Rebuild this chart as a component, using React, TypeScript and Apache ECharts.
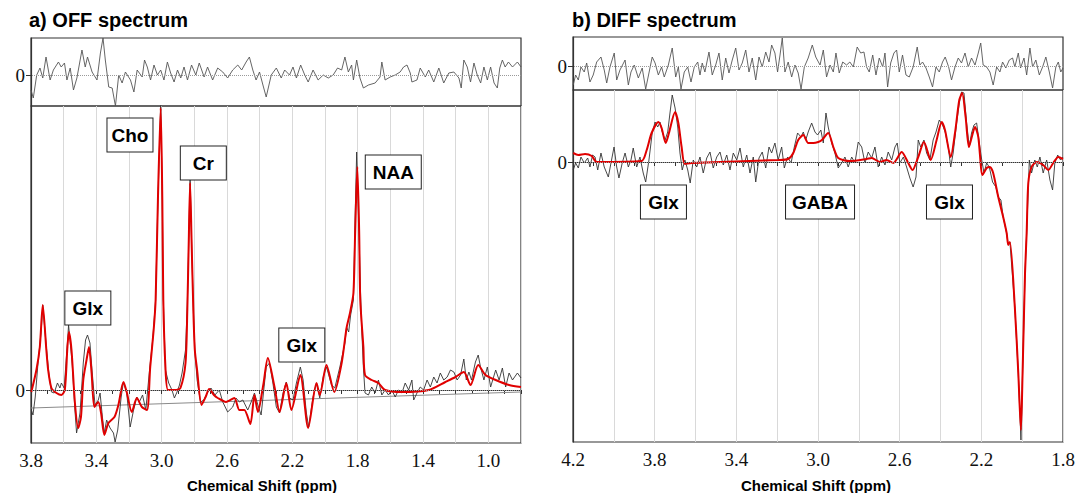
import React, { useEffect, useRef } from "react";
import * as echarts from "echarts";

// ---------- DATA (ppm, amplitude in arbitrary units) ----------
// a) OFF spectrum – residual (data minus fit)
const offResidual: number[][] = [[3.800,-15],[3.786,-23],[3.765,0],[3.745,7],[3.728,-3],[3.708,18],[3.683,-5],[3.663,5],[3.632,13],[3.615,8],[3.595,12],[3.580,-5],[3.560,7],[3.540,-15],[3.519,-3],[3.488,25],[3.468,8],[3.454,18],[3.426,3],[3.396,-5],[3.375,22],[3.359,37],[3.345,15],[3.324,-12],[3.303,-13],[3.283,-31],[3.263,0],[3.242,-8],[3.222,3],[3.191,-5],[3.170,-17],[3.150,5],[3.119,-2],[3.105,15],[3.088,8],[3.068,-5],[3.047,10],[3.026,0],[3.006,5],[2.986,-5],[2.965,13],[2.945,2],[2.924,-7],[2.903,5],[2.883,-3],[2.863,8],[2.842,-5],[2.817,10],[2.791,0],[2.770,12],[2.740,-2],[2.719,8],[2.688,-5],[2.657,7],[2.626,3],[2.596,-3],[2.565,5],[2.534,10],[2.510,5],[2.483,13],[2.463,18],[2.442,5],[2.422,-5],[2.401,3],[2.380,-10],[2.360,-22],[2.329,0],[2.298,7],[2.268,-3],[2.247,5],[2.217,0],[2.196,8],[2.175,-3],[2.149,10],[2.124,0],[2.103,-7],[2.073,5],[2.042,-5],[2.011,0],[1.980,-3],[1.950,0],[1.923,7],[1.898,5],[1.878,18],[1.857,3],[1.837,10],[1.826,-5],[1.806,15],[1.786,-3],[1.765,-13],[1.734,-10],[1.693,-8],[1.663,-2],[1.652,13],[1.632,-5],[1.601,-2],[1.570,0],[1.540,3],[1.519,8],[1.498,10],[1.478,2],[1.468,-7],[1.437,-5],[1.417,7],[1.386,-2],[1.365,5],[1.334,-7],[1.303,7],[1.273,-8],[1.242,2],[1.211,3],[1.180,-3],[1.166,-13],[1.150,15],[1.129,8],[1.109,-7],[1.088,12],[1.068,0],[1.047,-8],[1.027,8],[1.006,-5],[0.986,8],[0.965,-8],[0.945,-13],[0.930,7],[0.914,15],[0.897,8],[0.877,13],[0.852,8],[0.822,13],[0.800,8]];

// a) OFF spectrum – measured data
const offData: number[][] = [[3.798,-20],[3.788,-25],[3.774,-7],[3.757,27],[3.737,60],[3.728,85],[3.706,43],[3.691,17],[3.675,-2],[3.658,-3],[3.638,7],[3.623,2],[3.614,7],[3.597,2],[3.577,47],[3.570,65],[3.548,27],[3.531,-20],[3.521,-43],[3.500,-23],[3.480,27],[3.466,50],[3.454,55],[3.439,47],[3.425,17],[3.408,-15],[3.388,-10],[3.377,-3],[3.363,-27],[3.351,-43],[3.337,-30],[3.316,-38],[3.295,-43],[3.285,-52],[3.269,-40],[3.248,-7],[3.234,8],[3.214,-3],[3.193,-37],[3.172,-20],[3.152,-7],[3.137,-12],[3.117,-5],[3.097,-20],[3.076,17],[3.055,50],[3.037,90],[3.023,190],[3.006,285],[2.996,190],[2.990,90],[2.977,20],[2.957,7],[2.937,0],[2.922,-8],[2.906,-2],[2.891,5],[2.875,17],[2.854,40],[2.843,85],[2.834,150],[2.826,212],[2.817,150],[2.806,80],[2.797,40],[2.783,10],[2.762,-12],[2.742,-10],[2.721,-3],[2.698,2],[2.674,-5],[2.647,0],[2.626,-12],[2.596,-22],[2.565,-17],[2.545,-8],[2.524,-12],[2.503,-10],[2.473,-20],[2.452,-12],[2.432,-3],[2.411,-15],[2.391,-25],[2.360,23],[2.340,27],[2.319,7],[2.298,-17],[2.278,-23],[2.257,-3],[2.237,8],[2.217,-8],[2.196,-10],[2.175,7],[2.151,23],[2.134,10],[2.114,-23],[2.100,-37],[2.073,-7],[2.052,7],[2.032,-8],[2.011,13],[1.991,23],[1.960,5],[1.940,2],[1.909,23],[1.878,47],[1.868,63],[1.855,58],[1.843,75],[1.826,90],[1.816,170],[1.806,238],[1.794,170],[1.783,100],[1.775,60],[1.765,23],[1.755,-3],[1.734,-5],[1.714,3],[1.693,-3],[1.673,10],[1.652,-5],[1.632,0],[1.611,-5],[1.591,0],[1.570,-7],[1.550,0],[1.529,-3],[1.509,7],[1.488,0],[1.468,10],[1.457,-10],[1.437,-3],[1.417,3],[1.396,0],[1.375,10],[1.355,3],[1.334,13],[1.314,7],[1.294,17],[1.273,10],[1.252,13],[1.232,20],[1.211,18],[1.191,10],[1.170,15],[1.150,31],[1.135,10],[1.119,18],[1.103,10],[1.079,28],[1.062,35],[1.048,23],[1.027,10],[1.006,23],[0.986,3],[0.955,20],[0.934,10],[0.914,22],[0.894,3],[0.873,17],[0.852,10],[0.822,17],[0.800,12]];

// a) OFF spectrum – model fit
const offFit: number[][] = [[3.798,-2],[3.767,20],[3.746,43],[3.728,85],[3.706,40],[3.695,20],[3.675,2],[3.644,-3],[3.614,-5],[3.593,0],[3.577,43],[3.568,58],[3.552,40],[3.531,-13],[3.511,-38],[3.494,-27],[3.480,10],[3.460,30],[3.445,43],[3.429,17],[3.412,-17],[3.388,-12],[3.371,-23],[3.351,-45],[3.326,-33],[3.289,-27],[3.265,-15],[3.234,8],[3.214,-2],[3.183,-22],[3.152,-8],[3.121,-17],[3.090,-20],[3.070,23],[3.049,60],[3.037,90],[3.023,190],[3.006,282],[2.996,190],[2.990,90],[2.977,23],[2.961,0],[2.916,0],[2.885,2],[2.854,27],[2.843,80],[2.834,150],[2.826,207],[2.817,150],[2.806,80],[2.797,40],[2.783,20],[2.756,-15],[2.731,-7],[2.709,1],[2.680,-5],[2.657,-8],[2.606,-12],[2.555,-8],[2.524,-20],[2.494,-20],[2.457,-34],[2.432,-5],[2.411,-22],[2.378,5],[2.350,32],[2.309,3],[2.278,-22],[2.237,7],[2.206,-20],[2.151,15],[2.103,-38],[2.052,7],[2.032,-5],[1.991,25],[1.943,-2],[1.898,27],[1.868,62],[1.847,77],[1.826,97],[1.815,160],[1.802,223],[1.791,160],[1.784,90],[1.765,43],[1.755,15],[1.714,10],[1.673,7],[1.632,0],[1.529,-2],[1.365,0],[1.263,8],[1.201,13],[1.150,18],[1.109,5],[1.062,25],[1.017,15],[0.955,10],[0.873,5],[0.800,3]];

// a) OFF spectrum – fitted baseline
const offBaseline: number[][] = [[3.8,-18],[0.8,-2]];

// b) DIFF spectrum – residual
const diffResidual: number[][] = [[4.199,-19],[4.187,-9],[4.174,-14],[4.161,-1],[4.145,-6],[4.133,3],[4.117,-16],[4.101,-9],[4.084,4],[4.063,9],[4.047,-4],[4.035,-17],[4.019,-1],[3.998,13],[3.986,-14],[3.970,-4],[3.945,6],[3.929,-19],[3.916,-6],[3.900,1],[3.880,-12],[3.861,-2],[3.844,-23],[3.828,-7],[3.812,9],[3.798,3],[3.782,-9],[3.766,-1],[3.753,-11],[3.733,1],[3.714,18],[3.697,-11],[3.684,-1],[3.671,-23],[3.655,-6],[3.638,-1],[3.622,-16],[3.606,-1],[3.589,4],[3.578,-9],[3.567,3],[3.554,-6],[3.534,14],[3.518,-9],[3.501,1],[3.485,13],[3.469,-14],[3.452,8],[3.436,-7],[3.420,6],[3.403,18],[3.387,-4],[3.371,3],[3.354,16],[3.338,-6],[3.322,8],[3.305,-14],[3.289,9],[3.273,-1],[3.256,14],[3.240,4],[3.227,21],[3.211,13],[3.198,-6],[3.186,11],[3.175,28],[3.162,-6],[3.146,4],[3.129,-11],[3.113,1],[3.097,-7],[3.083,-23],[3.067,-1],[3.048,8],[3.028,21],[3.011,9],[2.990,1],[2.974,16],[2.958,-11],[2.941,1],[2.925,-6],[2.912,13],[2.896,-7],[2.879,4],[2.860,1],[2.844,4],[2.827,-1],[2.808,19],[2.791,13],[2.775,14],[2.762,-1],[2.749,-6],[2.732,11],[2.716,-9],[2.700,8],[2.683,-1],[2.672,13],[2.659,-21],[2.644,3],[2.628,13],[2.615,16],[2.602,-6],[2.586,11],[2.569,-9],[2.553,-11],[2.534,-1],[2.514,19],[2.501,1],[2.488,4],[2.471,-2],[2.455,-11],[2.439,-21],[2.422,-1],[2.406,-6],[2.390,4],[2.377,9],[2.360,-1],[2.346,-14],[2.329,-1],[2.313,8],[2.297,3],[2.280,13],[2.264,-1],[2.248,8],[2.231,1],[2.215,13],[2.203,23],[2.191,1],[2.174,-1],[2.158,-6],[2.142,-19],[2.125,-1],[2.109,-6],[2.096,4],[2.080,-2],[2.063,6],[2.047,8],[2.036,-1],[2.019,13],[2.008,-2],[1.991,8],[1.978,-9],[1.962,18],[1.949,-1],[1.933,6],[1.916,-9],[1.900,-1],[1.884,9],[1.867,-6],[1.851,-22],[1.835,-1],[1.823,4],[1.811,-6],[1.800,-2]];

// b) DIFF spectrum – measured data
const diffData: number[][] = [[4.199,-8],[4.187,-1],[4.174,-6],[4.161,5],[4.145,-1],[4.128,4],[4.117,-5],[4.104,7],[4.092,5],[4.079,-8],[4.063,9],[4.047,-5],[4.027,-15],[4.014,-1],[3.999,15],[3.986,-5],[3.975,-16],[3.959,-1],[3.945,9],[3.929,-5],[3.916,2],[3.905,14],[3.888,-5],[3.872,5],[3.856,-11],[3.844,-20],[3.828,2],[3.812,29],[3.798,40],[3.785,35],[3.774,40],[3.763,30],[3.749,22],[3.736,30],[3.725,49],[3.714,67],[3.700,54],[3.687,35],[3.676,9],[3.665,-8],[3.652,2],[3.638,-8],[3.626,-21],[3.611,2],[3.594,-5],[3.578,5],[3.562,-11],[3.545,4],[3.529,10],[3.513,-6],[3.496,5],[3.480,10],[3.464,-3],[3.447,7],[3.431,-8],[3.415,9],[3.398,2],[3.382,14],[3.366,-5],[3.349,7],[3.333,-11],[3.317,5],[3.305,-20],[3.289,4],[3.273,10],[3.256,-6],[3.240,15],[3.227,9],[3.211,19],[3.195,2],[3.178,15],[3.165,-6],[3.149,5],[3.132,-1],[3.116,15],[3.100,29],[3.083,25],[3.072,30],[3.060,22],[3.048,30],[3.031,39],[3.015,30],[3.002,27],[2.986,32],[2.974,19],[2.961,49],[2.950,35],[2.933,19],[2.917,9],[2.901,-6],[2.884,-1],[2.868,5],[2.852,-5],[2.835,5],[2.819,-1],[2.803,20],[2.786,15],[2.770,-1],[2.754,10],[2.737,4],[2.721,15],[2.705,-5],[2.688,5],[2.672,-3],[2.656,10],[2.639,2],[2.623,15],[2.612,19],[2.599,-1],[2.582,5],[2.566,-5],[2.550,-16],[2.534,-25],[2.520,-15],[2.509,22],[2.497,15],[2.481,22],[2.468,9],[2.452,2],[2.436,22],[2.422,30],[2.406,42],[2.390,37],[2.377,30],[2.362,15],[2.350,-5],[2.338,9],[2.321,39],[2.308,59],[2.297,70],[2.285,69],[2.272,39],[2.259,15],[2.248,29],[2.236,37],[2.223,39],[2.210,19],[2.198,2],[2.187,-11],[2.174,-1],[2.161,-5],[2.145,-20],[2.129,-25],[2.117,-35],[2.104,-38],[2.093,-55],[2.076,-71],[2.068,-83],[2.060,-80],[2.036,-145],[2.019,-211],[2.006,-278],[1.998,-211],[1.986,-111],[1.978,-71],[1.965,2],[1.954,-11],[1.938,2],[1.926,-5],[1.913,5],[1.897,-11],[1.880,2],[1.864,-18],[1.851,-28],[1.840,-1],[1.826,7],[1.812,2],[1.800,5]];

// b) DIFF spectrum – model fit
const diffFit: number[][] = [[4.199,9],[4.174,7],[4.141,8],[4.108,6],[4.084,0],[3.864,1],[3.839,12],[3.815,29],[3.782,40],[3.766,34],[3.746,19],[3.730,29],[3.700,50],[3.684,39],[3.668,15],[3.652,-2],[3.619,-1],[3.195,2],[3.146,3],[3.121,9],[3.097,22],[3.072,27],[3.048,19],[3.023,19],[2.999,20],[2.981,22],[2.950,29],[2.925,15],[2.901,4],[2.844,1],[2.762,3],[2.737,4],[2.697,0],[2.664,2],[2.631,-1],[2.590,10],[2.558,-1],[2.537,-8],[2.509,5],[2.481,20],[2.448,2],[2.419,22],[2.394,40],[2.378,32],[2.350,5],[2.329,29],[2.308,62],[2.294,69],[2.277,45],[2.261,15],[2.248,24],[2.231,35],[2.215,25],[2.194,-13],[2.174,-6],[2.158,-5],[2.142,-11],[2.117,-35],[2.093,-55],[2.076,-71],[2.068,-83],[2.060,-80],[2.036,-145],[2.019,-211],[2.006,-268],[1.998,-211],[1.986,-111],[1.978,-71],[1.970,-21],[1.954,-5],[1.929,0],[1.897,-3],[1.872,-8],[1.848,-1],[1.823,5],[1.800,3]];

// Annotations: [label, ppm, amplitude]
const offLabels: [string, number, number][] = [["Glx",3.452,82],["Cho",3.194,255],["Cr",2.745,227],["Glx",2.142,45],["NAA",1.582,218]];
const diffLabels: [string, number, number][] = [["Glx",3.757,-40],["GABA",2.99,-40],["Glx",2.356,-40]];

// Axis ranges and tick labels
const offRange = [0.8, 3.8];
const diffRange = [1.8, 4.2];
const offTickLabels = ["3.8","3.4","3.0","2.6","2.2","1.8","1.4","1.0"];
const diffTickLabels = ["4.2","3.8","3.4","3.0","2.6","2.2","1.8"];
const titles = ["a) OFF spectrum", "b) DIFF spectrum"];
const axisName = "Chemical Shift (ppm)";

// ---------- STYLE ----------
const SERIF = '"Liberation Serif", "Times New Roman", serif';
const SANS = '"Liberation Sans", Arial, sans-serif';
const FRAME = "#333";

function xAxisDef(gridIndex: number, range: number[], labels: string[] | null) {
  return {
    type: "value",
    gridIndex,
    min: range[0],
    max: range[1],
    inverse: true,
    interval: 0.2,
    axisLine: { show: labels !== null, lineStyle: { color: FRAME, width: 1.2 } },
    axisTick: { show: labels !== null, length: 4, inside: false, lineStyle: { color: FRAME } },
    minorTick: { show: labels !== null, splitNumber: 2, length: 4, lineStyle: { color: FRAME } },
    splitLine: { show: labels !== null, lineStyle: { color: "#d9d9d9", width: 1 } },
    axisLabel: {
      show: labels !== null,
      margin: 8,
      color: "#111",
      fontFamily: SERIF,
      fontSize: 19,
      formatter: (v: number) => {
        const s = v.toFixed(1);
        return labels && labels.indexOf(s) >= 0 ? s : "";
      },
    },
  };
}

function yAxisDef(gridIndex: number, min: number, max: number) {
  return {
    type: "value",
    gridIndex,
    min,
    max,
    axisLine: { show: true, lineStyle: { color: FRAME, width: 1.2 } },
    axisTick: { show: true, length: 5, customValues: [0], lineStyle: { color: FRAME } },
    axisLabel: { show: true, customValues: [0], margin: 6, color: "#111", fontFamily: SERIF, fontSize: 19 },
    splitLine: { show: false },
  };
}

const zeroLine = {
  silent: true,
  symbol: ["none", "none"],
  label: { show: false },
  lineStyle: { type: "dotted", color: "#9a9a9a", width: 1 },
  data: [{ yAxis: 0 }],
};

function labelPoints(list: [string, number, number][]) {
  const widths: Record<string, number> = { Glx: 45, Cho: 45, Cr: 45, NAA: 55, GABA: 68 };
  return {
    symbol: "circle",
    symbolSize: 0,
    silent: true,
    label: {
      show: true,
      position: "inside",
      formatter: "{b}",
      color: "#000",
      fontFamily: SANS,
      fontWeight: "bold",
      fontSize: 19,
      lineHeight: 19,
      backgroundColor: "#fff",
      borderColor: "#222",
      borderWidth: 1,
      padding: [7, 0, 7, 0],
      align: "center",
      verticalAlign: "middle",
    },
    data: list.map(([name, ppm, amp]) => ({
      name,
      coord: [ppm, amp],
      label: { width: widths[name] },
    })),
  };
}

function line(xi: number, data: number[][], color: string, width: number, extra: any = {}) {
  return {
    type: "line",
    xAxisIndex: xi,
    yAxisIndex: xi,
    data,
    showSymbol: false,
    symbol: "none",
    silent: true,
    lineStyle: { color, width },
    ...extra,
  };
}

function buildOption() {
  const gridStyle = { show: true, borderColor: FRAME, borderWidth: 1.2, backgroundColor: "transparent" };
  return {
    animation: false,
    backgroundColor: "#fff",
    grid: [
      { left: 31, top: 38, width: 490, height: 68, ...gridStyle },
      { left: 31, top: 106, width: 490, height: 337, ...gridStyle },
      { left: 573, top: 37, width: 490, height: 53, ...gridStyle },
      { left: 573, top: 90, width: 490, height: 352, ...gridStyle },
    ],
    xAxis: [
      xAxisDef(0, offRange, null),
      xAxisDef(1, offRange, offTickLabels),
      xAxisDef(2, diffRange, null),
      xAxisDef(3, diffRange, diffTickLabels),
    ],
    yAxis: [yAxisDef(0, -31, 37), yAxisDef(1, -53, 284), yAxisDef(2, -24, 29), yAxisDef(3, -280, 72)],
    series: [
      line(0, offResidual, "#555", 0.9, { markLine: zeroLine }),
      line(1, offBaseline, "#8a8a8a", 1),
      line(1, offData, "#333", 0.9, { markLine: zeroLine }),
      line(1, offFit, "#e00000", 2, { smooth: 0.25, markPoint: labelPoints(offLabels) }),
      line(2, diffResidual, "#555", 0.9, { markLine: zeroLine }),
      line(3, diffData, "#333", 0.9, { markLine: zeroLine }),
      line(3, diffFit, "#e00000", 2, { smooth: 0.25, markPoint: labelPoints(diffLabels) }),
    ],
    graphic: [
      { type: "text", left: 29, top: 10, style: { text: titles[0], font: `bold 20px ${SANS}`, fill: "#000" } },
      { type: "text", left: 572, top: 10, style: { text: titles[1], font: `bold 20px ${SANS}`, fill: "#000" } },
      { type: "text", x: 262, y: 485, style: { text: axisName, font: `bold 15px ${SANS}`, fill: "#000", align: "center", verticalAlign: "middle" } },
      { type: "text", x: 816, y: 485, style: { text: axisName, font: `bold 15px ${SANS}`, fill: "#000", align: "center", verticalAlign: "middle" } },
    ],
  };
}

export default function App() {
  const ref = useRef<HTMLDivElement>(null);
  useEffect(() => {
    if (!ref.current) return;
    const chart = echarts.init(ref.current, null, { renderer: "svg" });
    chart.setOption(buildOption() as any);
    return () => chart.dispose();
  }, []);
  return (
    <div
      ref={ref}
      style={{ position: "absolute", left: 0, top: 0, width: 1083, height: 493, background: "#fff" }}
    />
  );
}
